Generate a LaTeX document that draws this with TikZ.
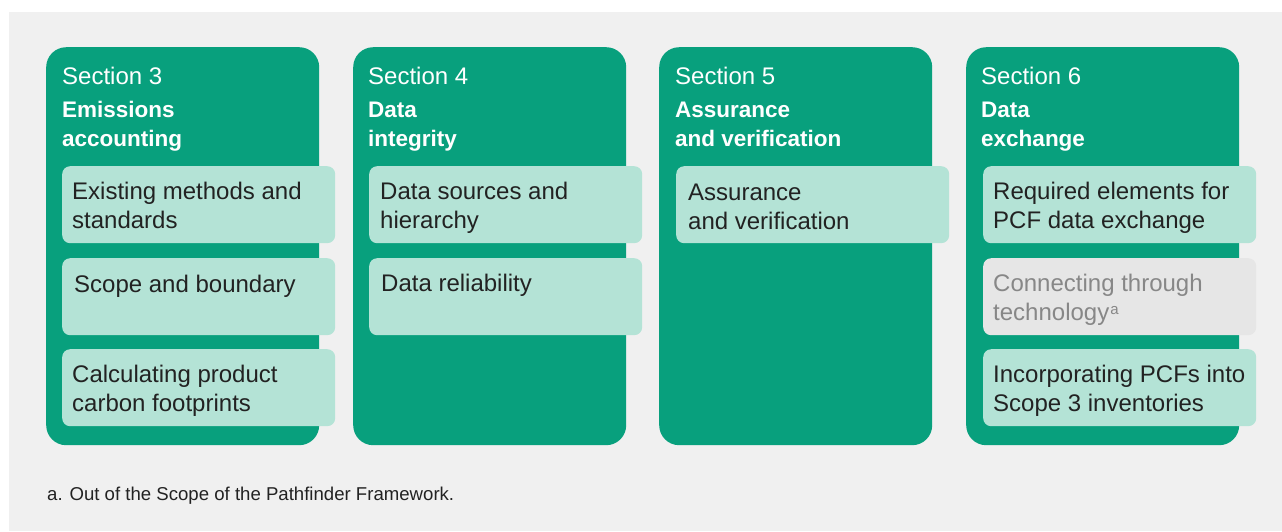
\documentclass[tikz,border=0pt]{standalone}
\usepackage{fontspec}
\setmainfont{Liberation Sans}
\definecolor{pfgreen}{RGB}{8,160,125}
\definecolor{pflight}{RGB}{180,227,214}
\definecolor{pfgrey}{RGB}{230,230,230}
\definecolor{pfgreytext}{RGB}{135,135,135}
\definecolor{pfback}{RGB}{240,240,240}
\definecolor{pfdark}{RGB}{34,34,34}

\begin{document}
\begin{tikzpicture}[x=1pt,y=-1pt,
    secbox/.style={fill=pfgreen, rounded corners=20pt, anchor=north west, minimum width=273pt, minimum height=398pt, inner sep=0pt},
    itembox/.style={fill=pflight, rounded corners=8pt, anchor=north west, minimum width=273pt, minimum height=77pt, inner sep=0pt},
    offbox/.style={itembox, fill=pfgrey},
    sectext/.style={anchor=base west, inner sep=0pt, text=white, font=\fontsize{24}{29}\selectfont},
    titletext/.style={anchor=base west, inner sep=0pt, align=left, text=white, font=\fontsize{22.5}{29}\selectfont\bfseries},
    itemtext/.style={anchor=base west, inner sep=0pt, align=left, text=pfdark, font=\fontsize{24}{29}\selectfont},
    offtext/.style={itemtext, text=pfgreytext}]
    \useasboundingbox (0,0) rectangle (1282,531);
    \fill[white] (0,0) rectangle (1282,531);
    \fill[pfback] (9,12) rectangle (1282,531);

    \node[secbox] (sec3) at (46,47) {};
    \node[secbox] (sec4) at (353,47) {};
    \node[secbox] (sec5) at (659,47) {};
    \node[secbox] (sec6) at (966,47) {};

    \node[sectext] (sec3num) at ([shift={(16,37)}]sec3.north west) {Section 3};
    \node[titletext] (sec3title) at ([shift={(16,99.7)}]sec3.north west) {Emissions\\accounting};
    \node[sectext] (sec4num) at ([shift={(15,37)}]sec4.north west) {Section 4};
    \node[titletext] (sec4title) at ([shift={(15,99.7)}]sec4.north west) {Data\\integrity};
    \node[sectext] (sec5num) at ([shift={(16,37)}]sec5.north west) {Section 5};
    \node[titletext] (sec5title) at ([shift={(16,99.7)}]sec5.north west) {Assurance\\and verification};
    \node[sectext] (sec6num) at ([shift={(15,37)}]sec6.north west) {Section 6};
    \node[titletext] (sec6title) at ([shift={(15,99.7)}]sec6.north west) {Data\\exchange};

    \node[itembox] (methods) at (62,166) {};
    \node[itembox] (boundary) at (62,258) {};
    \node[itembox] (footprints) at (62,349) {};
    \node[itembox] (sources) at (369,166) {};
    \node[itembox] (reliability) at (369,258) {};
    \node[itembox] (assurance) at (676,166) {};
    \node[itembox] (required) at (983,166) {};
    \node[offbox] (technology) at (983,258) {};
    \node[itembox] (inventories) at (983,349) {};

    \node[itemtext] at ([shift={(10,62.5)}]methods.north west) {Existing methods and\\standards};
    \node[itemtext] at ([shift={(12,34.5)}]boundary.north west) {Scope and boundary};
    \node[itemtext] at ([shift={(10,62.5)}]footprints.north west) {Calculating product\\carbon footprints};
    \node[itemtext] at ([shift={(11,62.5)}]sources.north west) {Data sources and\\hierarchy};
    \node[itemtext] at ([shift={(12,33.5)}]reliability.north west) {Data reliability};
    \node[itemtext] at ([shift={(12,63.5)}]assurance.north west) {Assurance\\and verification};
    \node[itemtext] at ([shift={(10,62.5)}]required.north west) {Required elements for\\PCF data exchange};
    \node[offtext] at ([shift={(10,62)}]technology.north west) {Connecting through\\technology\kern1pt\raisebox{6pt}{\fontsize{15}{15}\selectfont a}};
    \node[itemtext] at ([shift={(10,62.5)}]inventories.north west) {Incorporating PCFs into\\Scope 3 inventories};

    \node[anchor=base west, inner sep=0pt, text=pfdark, font=\fontsize{18.6}{22}\selectfont] (note) at (47,500.5) {a. Out of the Scope of the Pathfinder Framework.};
\end{tikzpicture}
\end{document}
